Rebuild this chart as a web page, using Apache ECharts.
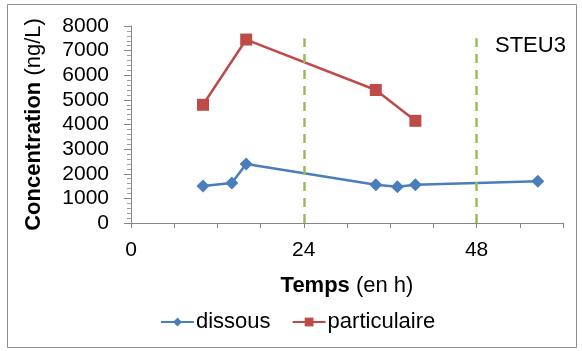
<!DOCTYPE html>
<html><head><meta charset="utf-8">
<script src="https://cdn.jsdelivr.net/npm/echarts@6/dist/echarts.min.js"></script>
<style>html,body{margin:0;padding:0;background:#fff}#c{width:582px;height:351px}</style>
</head><body><div id="c"></div>
<script>
const dissous = [[10,1500],[14,1620],[16,2400],[34,1550],[37,1470],[39.5,1550],[56.5,1700]];
const particulaire = [[10,4800],[16,7450],[34,5400],[39.5,4150]];
const dashedAt = [24, 48];
const dashedTop = 7500;
const xTickLabels = [0, 24, 48];
const FONT = 'Liberation Sans, Arial, sans-serif';
const chart = echarts.init(document.getElementById('c'));
chart.setOption({
  animation: false,
  textStyle: {fontFamily: FONT},
  graphic: [
    {type:'rect', shape:{x:7.5,y:4.5,width:569,height:343}, style:{fill:'none', stroke:'#8c8c8c', lineWidth:1}},
    {type:'text', left:495, top:35, style:{text:'STEU3', font:'22px ' + FONT, fill:'#000'}}
  ],
  grid: {left:131, top:26, right:19, bottom:128},
  legend: {
    bottom: 13, left: 155, itemWidth: 33, itemHeight: 11, itemGap: 21,
    textStyle:{fontSize:22, color:'#000', fontFamily:FONT, padding:[0,0,0,-3]},
    data: ['dissous','particulaire']
  },
  xAxis: {
    type:'value', min:0, max:60, interval:6,
    name: '{b|Temps}{n| (en h)}', nameLocation:'middle', nameGap:52,
    nameTextStyle:{rich:{b:{fontWeight:'bold',fontSize:22,fontFamily:FONT,color:'#000'},n:{fontSize:22,fontFamily:FONT,color:'#000'}}},
    axisLine:{show:true, onZero:false, lineStyle:{color:'#868686'}},
    axisTick:{show:true, length:5, lineStyle:{color:'#868686'}},
    axisLabel:{fontSize:21, color:'#000', margin:17, formatter: v => xTickLabels.includes(v) ? String(v) : ''},
    splitLine:{show:false}
  },
  yAxis: {
    type:'value', min:0, max:8000, interval:1000,
    name: '{b|Concentration}{n| (ng/L)}', nameLocation:'middle', nameGap:86, nameRotate:90,
    nameTextStyle:{rich:{b:{fontWeight:'bold',fontSize:22,fontFamily:FONT,color:'#000'},n:{fontSize:22,fontFamily:FONT,color:'#000'}}},
    axisLine:{show:true, lineStyle:{color:'#868686'}},
    axisTick:{show:true, length:7, lineStyle:{color:'#868686'}},
    minorTick:{show:true, splitNumber:5, length:4, lineStyle:{color:'#a0a0a0'}},
    axisLabel:{fontSize:21, color:'#000', margin:22, formatter: v => String(v)},
    splitLine:{show:false}
  },
  series: [
    {name:'dissous', type:'line', data:dissous, symbol:'diamond', symbolSize:13,
     lineStyle:{color:'#4A7EBB', width:2.5}, itemStyle:{color:'#4A7EBB'},
     markLine:{silent:true, symbol:'none', label:{show:false},
       lineStyle:{color:'#9BBB59', width:2.5, type:[9,7]},
       data: dashedAt.map(x => [{coord:[x,0]},{coord:[x,dashedTop]}])}
    },
    {name:'particulaire', type:'line', data:particulaire, symbol:'rect', symbolSize:12,
     lineStyle:{color:'#BE4B48', width:2.5}, itemStyle:{color:'#BE4B48'}}
  ]
});
</script></body></html>
